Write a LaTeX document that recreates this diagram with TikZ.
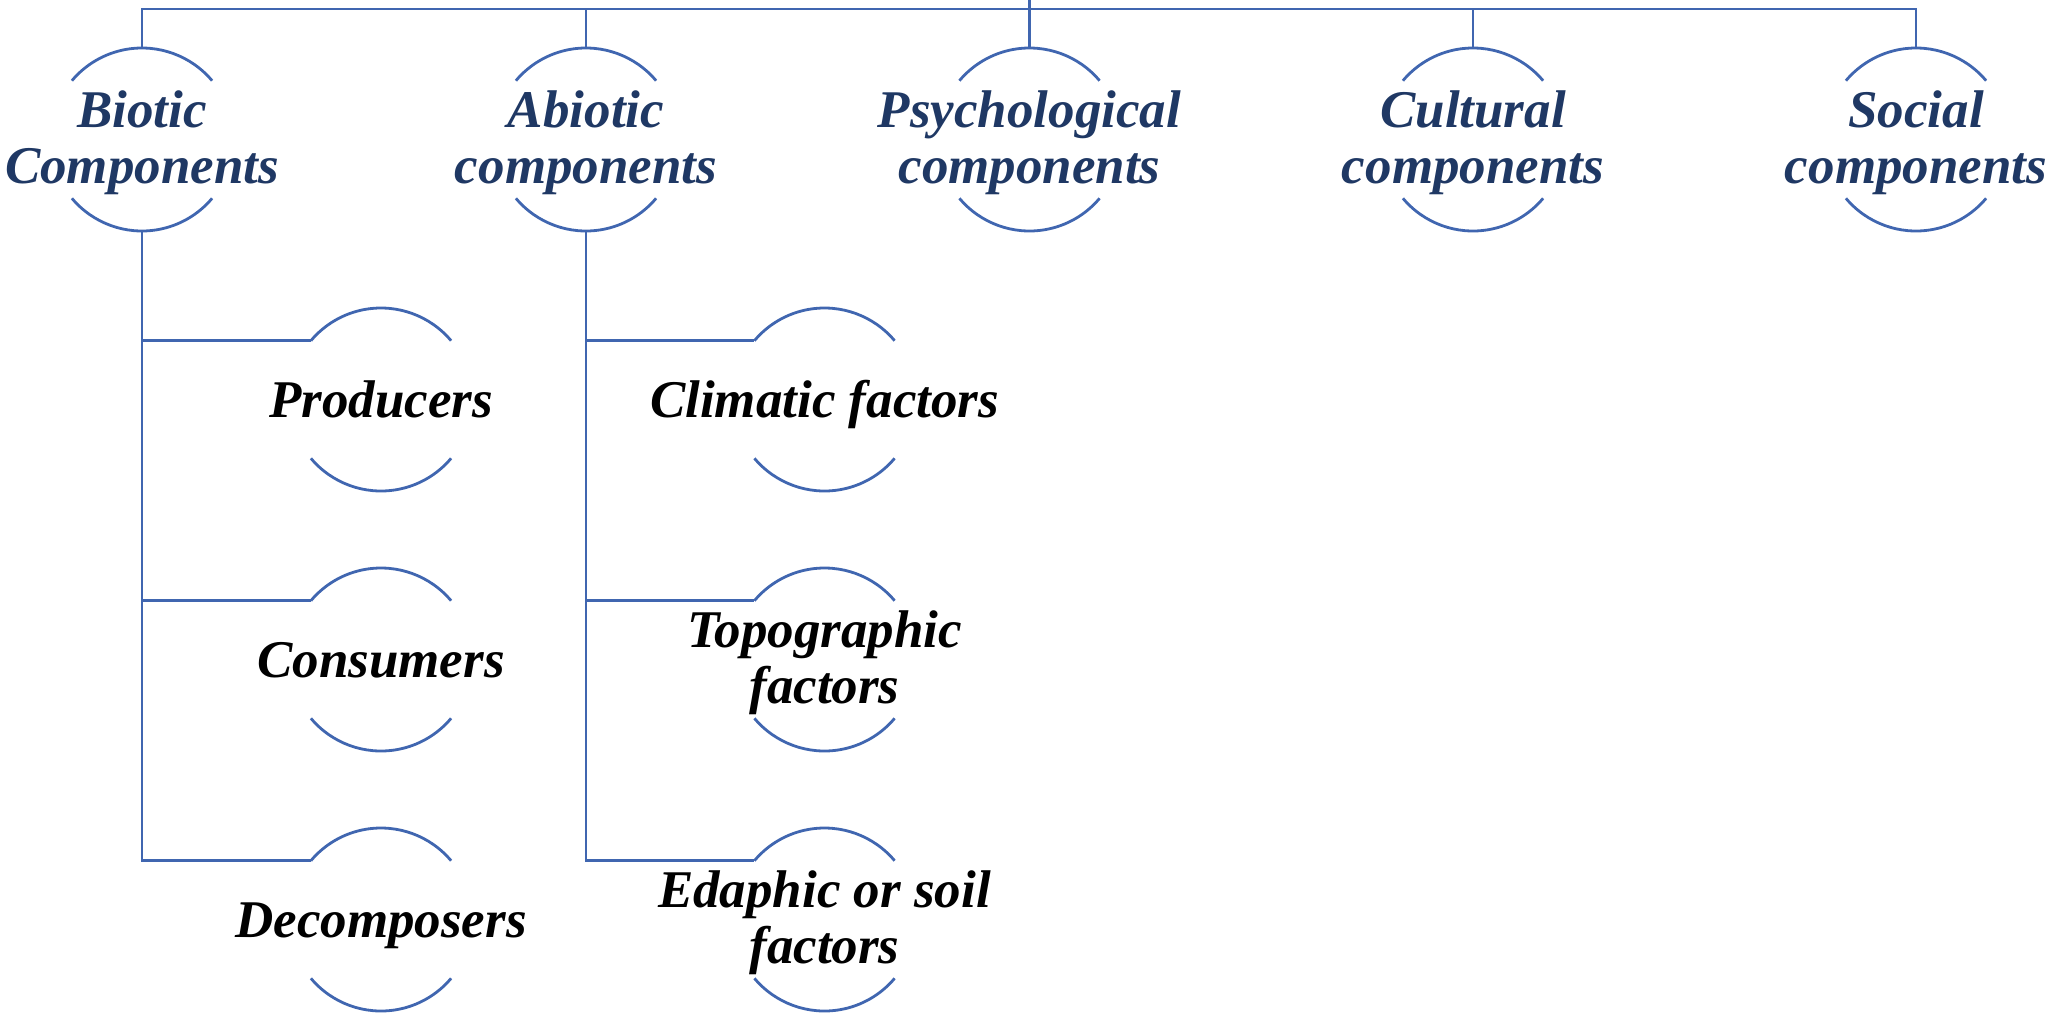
\documentclass[tikz,border=0pt]{standalone}
\usepackage{fontspec}
\setmainfont{Liberation Serif}
\definecolor{lineblue}{RGB}{64,102,176}
\definecolor{navytext}{RGB}{31,56,100}
\tikzset{
  hub/.style={circle, minimum size=183pt, inner sep=0pt, outer sep=0pt, draw=none},
  arcline/.style={draw=lineblue, line width=2.8pt},
  conn/.style={draw=lineblue, line width=2.8pt},
  basetxt/.style={anchor=base, align=center, inner sep=0pt,
    font=\fontsize{53}{55.5}\selectfont\bfseries\itshape},
  toptxt/.style={basetxt, text=navytext},
  subtxt/.style={basetxt, text=black}
}
\newcommand\halfarcs[1]{%
  \draw[arcline] (#1.40) arc[start angle=40, end angle=140, radius=91.5pt];
  \draw[arcline] (#1.220) arc[start angle=220, end angle=320, radius=91.5pt];}
\begin{document}
\begin{tikzpicture}[x=1pt,y=1pt]
\useasboundingbox (0,0) rectangle (2049,-1021);
% top-level nodes
\node[hub] (bio)  at (142,-139.5) {};
\node[hub] (abio) at (586,-139.5) {};
\node[hub] (psy)  at (1029.5,-139.5) {};
\node[hub] (cul)  at (1473,-139.5) {};
\node[hub] (soc)  at (1916,-139.5) {};
% children
\node[hub] (prod) at (381,-399.5) {};
\node[hub] (cons) at (381,-659.5) {};
\node[hub] (deco) at (381,-919.5) {};
\node[hub] (clim) at (824.5,-399.5) {};
\node[hub] (topo) at (824.5,-659.5) {};
\node[hub] (edap) at (824.5,-919.5) {};
\foreach \n in {bio,abio,psy,cul,soc,prod,cons,deco,clim,topo,edap}{\halfarcs{\n}}
% texts (base anchor = baseline of the last line)
\node[toptxt] (biot)  at ([yshift=-43.5pt]bio.center)  {Biotic\\Components};
\node[toptxt] (abiot) at ([yshift=-43.5pt]abio.center) {Abiotic\\components};
\node[toptxt] (psyt)  at ([yshift=-43.5pt]psy.center)  {Psychological\\components};
\node[toptxt] (cult)  at ([yshift=-43.5pt]cul.center)  {Cultural\\components};
\node[toptxt] (soct)  at ([yshift=-43.5pt]soc.center)  {Social\\components};
\node[subtxt] (prodt) at ([yshift=-17.5pt]prod.center) {Producers};
\node[subtxt] (const) at ([yshift=-17.5pt]cons.center) {Consumers};
\node[subtxt] (decot) at ([yshift=-17.5pt]deco.center) {Decomposers};
\node[subtxt] (climt) at ([yshift=-17.5pt]clim.center) {Climatic factors};
\node[subtxt] (topot) at ([yshift=-43.5pt]topo.center) {Topographic\\factors};
\node[subtxt] (edapt) at ([yshift=-43.5pt]edap.center) {Edaphic or soil\\factors};
% connectors
\coordinate (root) at (1029.5,0);
\coordinate (bar) at (1029.5,-9);
\draw[conn] (root) -- (psy.north);
\draw[conn] (bio.north) |- (bar) -| (soc.north);
\draw[conn] (abio.north) -- (abio.north |- bar);
\draw[conn] (cul.north) -- (cul.north |- bar);
\draw[conn] (bio.south) |- (prod.140);
\draw[conn] (bio.south) |- (cons.140);
\draw[conn] (bio.south) |- (deco.140);
\draw[conn] (abio.south) |- (clim.140);
\draw[conn] (abio.south) |- (topo.140);
\draw[conn] (abio.south) |- (edap.140);
\end{tikzpicture}
\end{document}
